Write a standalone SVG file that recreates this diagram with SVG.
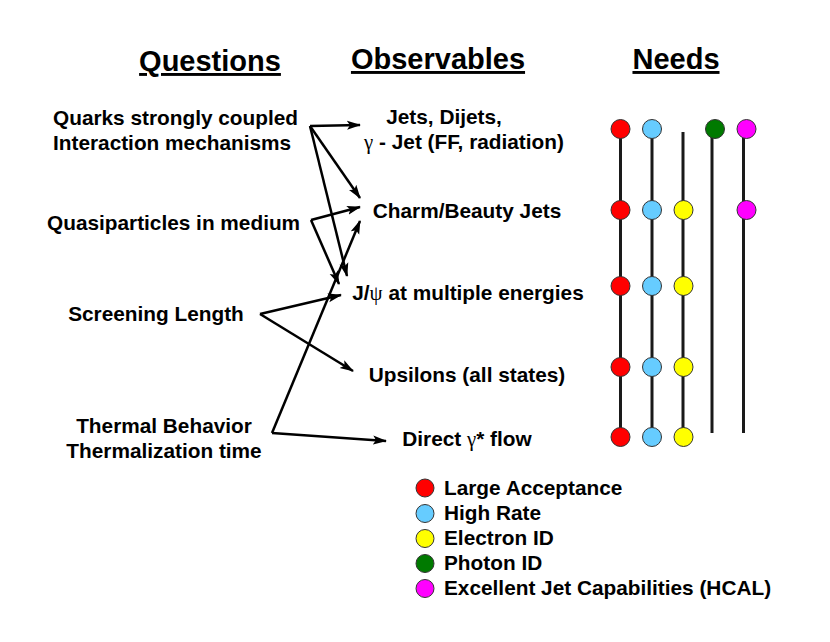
<svg xmlns="http://www.w3.org/2000/svg" width="830" height="642" viewBox="0 0 830 642">
<style>
text{font-family:"Liberation Sans",Arial,sans-serif;font-weight:bold;fill:#000;}
.h{font-size:29px;text-decoration:underline;}
.t{font-size:20.8px;}
.m{text-anchor:middle;}
.g{font-family:"Liberation Serif","Times New Roman",serif;font-weight:normal;}
.a{fill:none;stroke:#000;stroke-width:2.5;marker-end:url(#ah);}
.v{stroke:#1a1a1a;stroke-width:3;}
.c{stroke:#333;stroke-width:1;}
.red{fill:#ff0000}.blu{fill:#66ccff}.yel{fill:#ffff00}.grn{fill:#007a00}.mag{fill:#ff00ff}
</style>
<defs>
<marker id="ah" markerWidth="14" markerHeight="10" refX="13" refY="5" orient="auto" markerUnits="userSpaceOnUse">
<path d="M0,0.5 L14,5 L0,9.5 L3,5 Z" fill="#000"/>
</marker>
</defs>
<rect width="830" height="642" fill="#fff"/>
<g id="headers">
<text class="h m" x="210" y="71">Questions</text>
<text class="h m" x="438" y="69">Observables</text>
<text class="h m" x="676" y="69">Needs</text>
</g>
<g id="q-quarks"><text class="t" x="53" y="125">Quarks strongly coupled</text><text class="t" x="53" y="150">Interaction mechanisms</text></g>
<g id="q-quasi"><text class="t" x="47" y="230">Quasiparticles in medium</text></g>
<g id="q-screen"><text class="t m" x="156" y="321">Screening Length</text></g>
<g id="q-thermal"><text class="t m" x="164" y="433">Thermal Behavior</text><text class="t m" x="164" y="458">Thermalization time</text></g>
<g id="o-jets"><text class="t m" x="444" y="124">Jets, Dijets,</text><text class="t m" x="464" y="149"><tspan class="g">γ</tspan> - Jet (FF, radiation)</text></g>
<g id="o-charm"><text class="t m" x="467" y="218">Charm/Beauty Jets</text></g>
<g id="o-jpsi"><text class="t m" x="468" y="300">J/<tspan class="g">ψ</tspan> at multiple energies</text></g>
<g id="o-ups"><text class="t m" x="467" y="382">Upsilons (all states)</text></g>
<g id="o-direct"><text class="t m" x="467" y="446">Direct <tspan class="g">γ</tspan>* flow</text></g>
<g id="connectors">
<line class="a" x1="310" y1="126" x2="360" y2="125"/>
<line class="a" x1="310" y1="126" x2="360" y2="198"/>
<line class="a" x1="310" y1="126" x2="347" y2="276"/>
<line class="a" x1="311" y1="220" x2="360" y2="207"/>
<line class="a" x1="311" y1="220" x2="339" y2="284"/>
<line class="a" x1="260" y1="314" x2="341" y2="295"/>
<line class="a" x1="260" y1="314" x2="353" y2="371"/>
<line class="a" x1="272" y1="433" x2="360" y2="221"/>
<line class="a" x1="272" y1="433" x2="386" y2="441"/>
</g>
<g id="needs">
<line class="v" x1="620.5" y1="129" x2="620.5" y2="437"/>
<line class="v" x1="652" y1="129" x2="652" y2="437"/>
<line class="v" x1="683" y1="132" x2="683" y2="437"/>
<line class="v" x1="712" y1="129" x2="712" y2="433"/>
<line class="v" x1="743.5" y1="129" x2="743.5" y2="433"/>
<g id="need-large"><circle class="c red" cx="620.5" cy="129" r="9.5"/><circle class="c red" cx="620.5" cy="210" r="9.5"/><circle class="c red" cx="620.5" cy="286" r="9.5"/><circle class="c red" cx="620.5" cy="367" r="9.5"/><circle class="c red" cx="620.5" cy="437" r="9.5"/></g>
<g id="need-rate"><circle class="c blu" cx="652" cy="129" r="9.5"/><circle class="c blu" cx="652" cy="210" r="9.5"/><circle class="c blu" cx="652" cy="286" r="9.5"/><circle class="c blu" cx="652" cy="367" r="9.5"/><circle class="c blu" cx="652" cy="437" r="9.5"/></g>
<g id="need-electron"><circle class="c yel" cx="683.5" cy="210" r="9.5"/><circle class="c yel" cx="683.5" cy="286" r="9.5"/><circle class="c yel" cx="683.5" cy="367" r="9.5"/><circle class="c yel" cx="683.5" cy="437" r="9.5"/></g>
<g id="need-photon"><circle class="c grn" cx="715" cy="129" r="9.5"/></g>
<g id="need-hcal"><circle class="c mag" cx="746.5" cy="129" r="9.5"/><circle class="c mag" cx="746.5" cy="210" r="9.5"/></g>
</g>
<g id="legend">
<circle class="c red" cx="425" cy="488" r="9"/><text class="t" x="444" y="495">Large Acceptance</text>
<circle class="c blu" cx="425" cy="513.5" r="9"/><text class="t" x="444" y="520">High Rate</text>
<circle class="c yel" cx="425" cy="538.5" r="9"/><text class="t" x="444" y="545">Electron ID</text>
<circle class="c grn" cx="425" cy="563.5" r="9"/><text class="t" x="444" y="570">Photon ID</text>
<circle class="c mag" cx="425" cy="588.5" r="9"/><text class="t" x="444" y="595">Excellent Jet Capabilities (HCAL)</text>
</g>
</svg>
